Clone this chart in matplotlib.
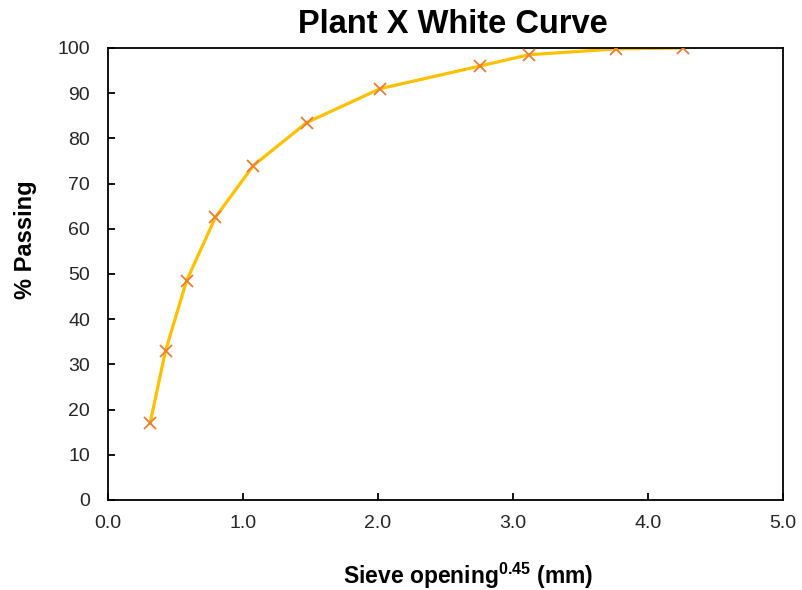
import matplotlib
matplotlib.use('Agg')
import matplotlib.pyplot as plt

plt.rcParams['font.family'] = ['Liberation Sans', 'DejaVu Sans']
plt.rcParams['mathtext.fontset'] = 'custom'
plt.rcParams['mathtext.bf'] = 'Liberation Sans:bold'
plt.rcParams['mathtext.rm'] = 'Liberation Sans'

# sieve opening^0.45 (mm) and % passing
sieve_x = [0.312, 0.426, 0.582, 0.795, 1.077, 1.472, 2.016, 2.754, 3.116, 3.762, 4.257]
passing = [17.0, 33.0, 48.5, 62.5, 74.0, 83.5, 91.0, 96.0, 98.5, 99.8, 100.0]

x_ticks = [0, 1, 2, 3, 4, 5]
y_ticks = [0, 10, 20, 30, 40, 50, 60, 70, 80, 90, 100]

fig = plt.figure(figsize=(8.03, 5.9), dpi=100)
ax = fig.add_axes([108 / 803, 90 / 590, 675 / 803, 452 / 590])

ax.plot(sieve_x, passing, color='#FFC000', linewidth=2.3, zorder=2)
ax.plot(sieve_x, passing, linestyle='none', marker='x', markersize=8,
        markeredgewidth=1.3, color='#ED7D31', zorder=3)

ax.set_xlim(0, 5)
ax.set_ylim(0, 100)
ax.set_xticks(x_ticks)
ax.set_xticklabels([f'{v:.1f}' for v in x_ticks])
ax.set_yticks(y_ticks)
ax.tick_params(direction='in', length=5, width=1.3, labelsize=14, labelcolor='#262626')
ax.tick_params(axis='y', pad=13)
ax.tick_params(axis='x', pad=11)
for s in ax.spines.values():
    s.set_linewidth(1.3)

ax.set_title('Plant X White Curve', fontsize=23.5, fontweight='bold', pad=11,
             x=(453 - 108) / 675)
ax.set_xlabel(r'Sieve opening$^{\mathbf{0.45}}$ (mm)', fontsize=16.5, fontweight='bold', va='center')
ax.set_ylabel('% Passing', fontsize=17, fontweight='bold', va='center')
ax.xaxis.set_label_coords((468 - 108) / 675, (500 - 576) / 452)
ax.yaxis.set_label_coords((25 - 108) / 675, (500 - 240) / 452)

fig.savefig('out.png', dpi=100)
